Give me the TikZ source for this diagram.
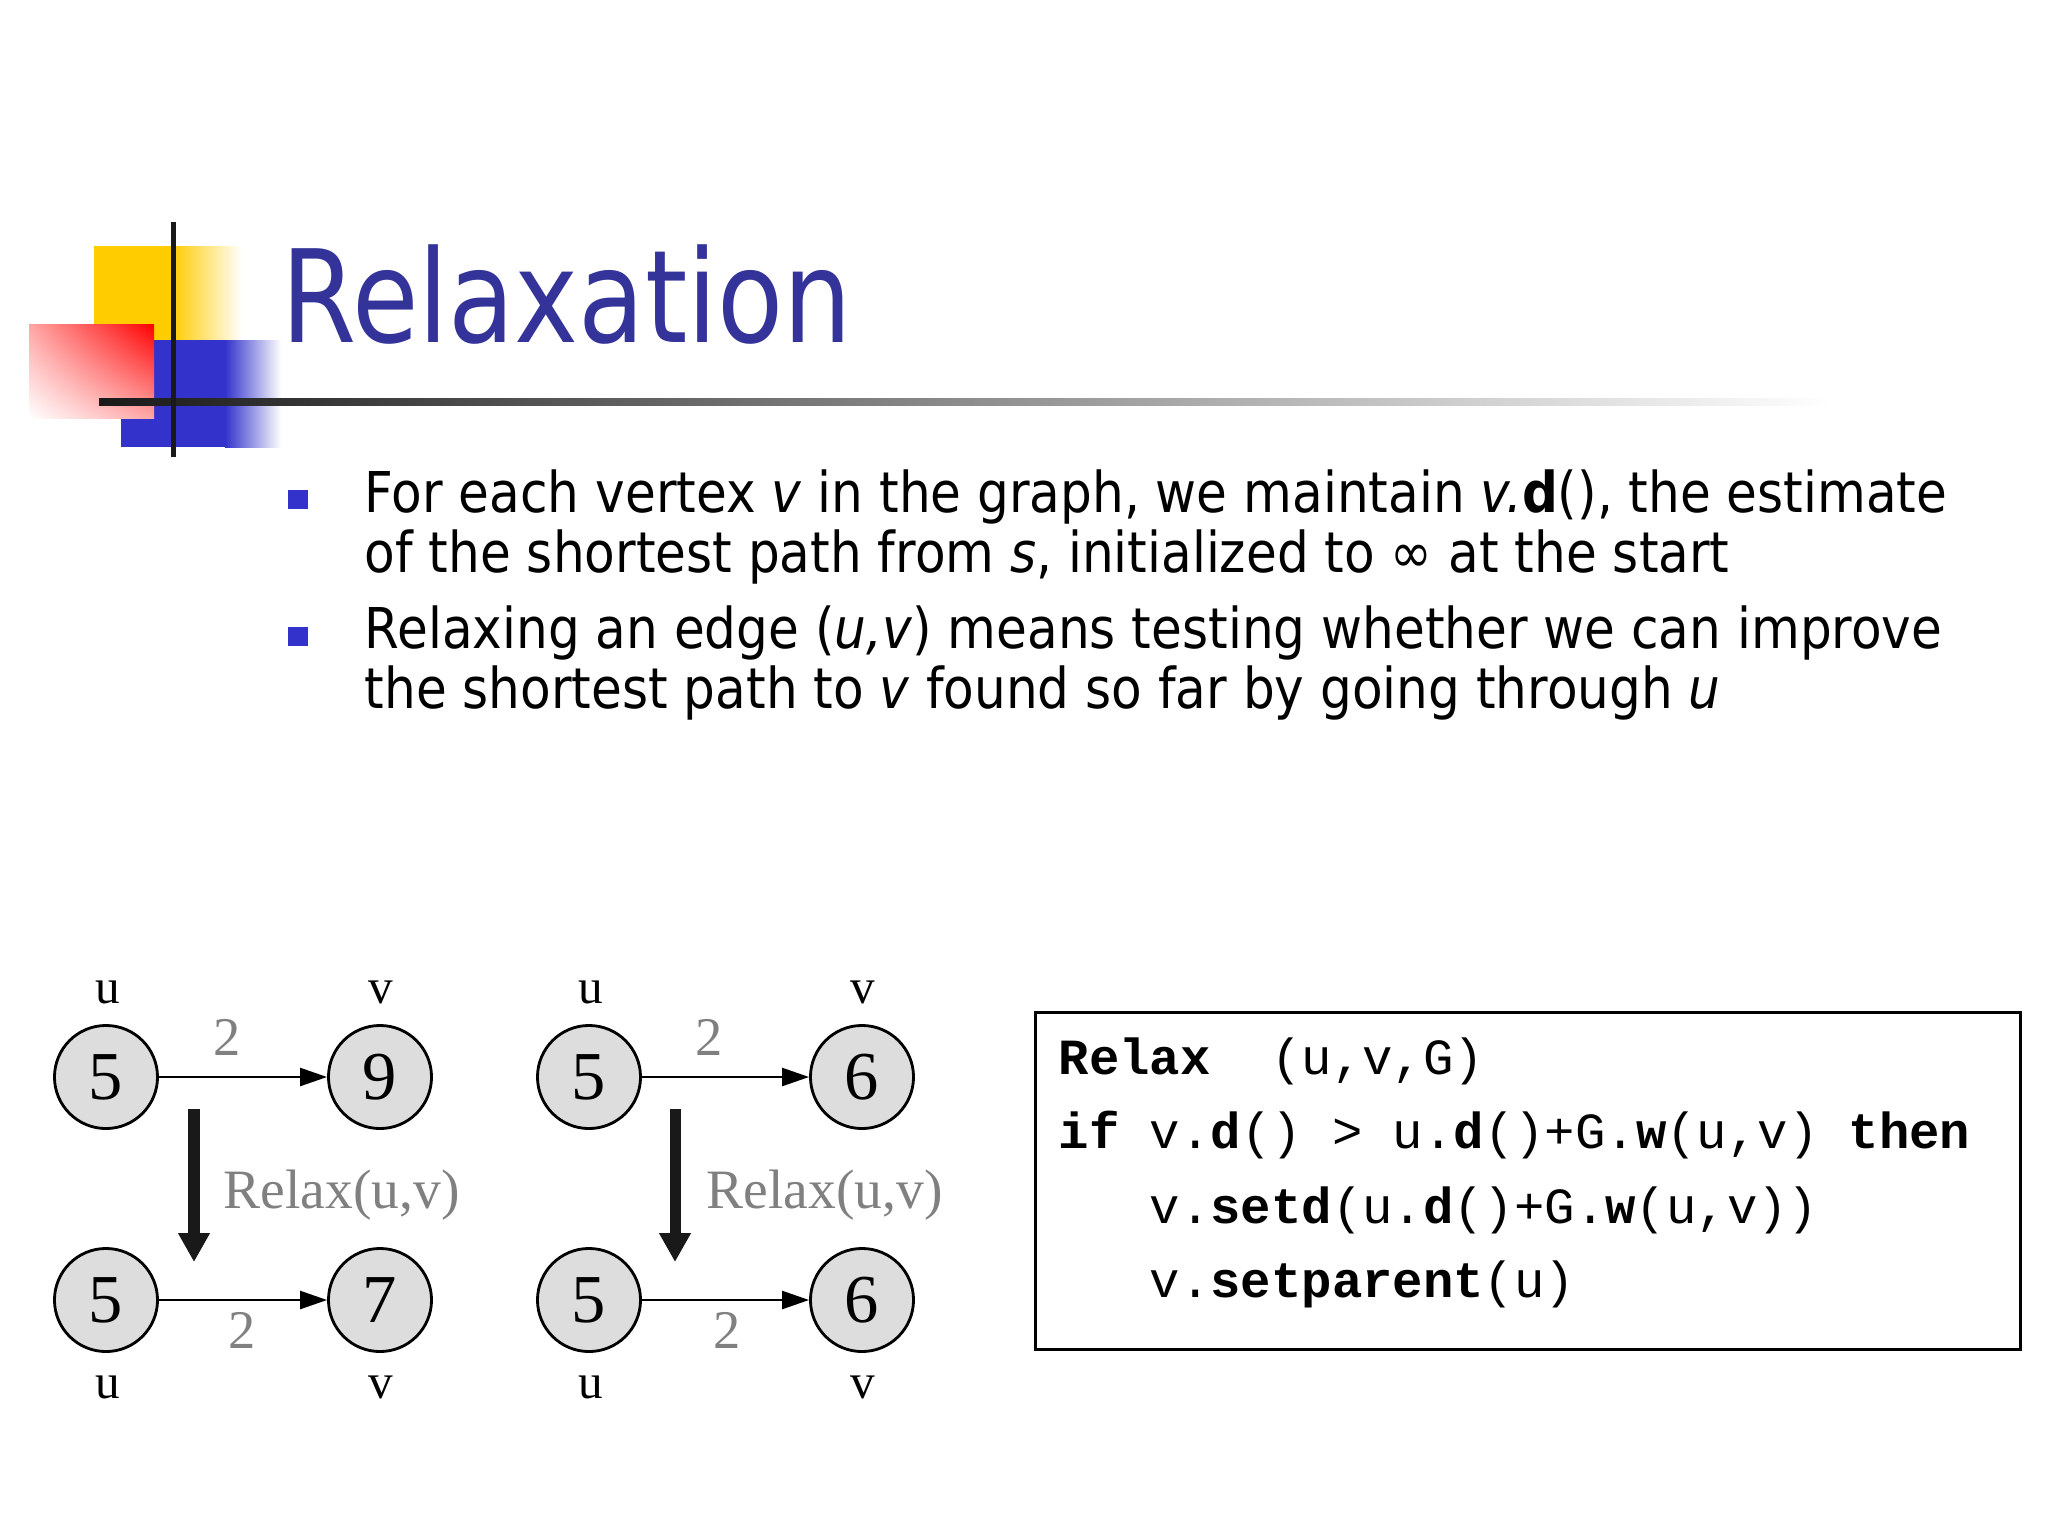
\documentclass[tikz,border=0pt]{standalone}
\usepackage{fontspec}
\usetikzlibrary{arrows.meta, positioning, shadings}
\setmainfont{Liberation Serif}
\newfontfamily\titlefont[FakeStretch=0.84]{DejaVu Sans}
\newfontfamily\slidefont[FakeStretch=0.89]{DejaVu Sans}
\newfontfamily\codefont{Liberation Mono}
\definecolor{titleblue}{RGB}{51,51,153}
\definecolor{bulletblue}{RGB}{51,51,204}
\definecolor{logoyellow}{RGB}{255,204,0}
\definecolor{logoblue}{RGB}{51,51,204}
\definecolor{nodegray}{RGB}{221,221,221}
\definecolor{labelgray}{RGB}{128,128,128}

\begin{document}
\begin{tikzpicture}[
    x=0.01cm, y=-0.01cm,
    vertex/.style={circle, draw=black, line width=0.8pt, fill=nodegray, minimum size=1.03cm, inner sep=0pt, font=\fontsize{19.5}{20}\selectfont},
    vlabel/.style={anchor=base, inner sep=0pt, font=\fontsize{14}{15}\selectfont},
    weight/.style={anchor=base, inner sep=0pt, text=labelgray, font=\fontsize{15.5}{16}\selectfont},
    relaxlabel/.style={anchor=base west, inner sep=0pt, text=labelgray, font=\fontsize{15.8}{16}\selectfont},
    edge/.style={-{Triangle[length=0.27cm, width=0.18cm]}, line width=0.7pt},
    relaxarrow/.style={-{Triangle[length=0.29cm, width=0.30cm]}, line width=0.11cm, draw=black!90},
    bodyline/.style={anchor=base west, inner sep=0pt, font=\slidefont\fontsize{16}{19}\selectfont},
    codeline/.style={anchor=base west, inner sep=0pt, font=\codefont\fontsize{14.4}{17}\selectfont},
    bulletbox/.style={rectangle, fill=bulletblue, minimum size=0.19cm, inner sep=0pt}
]
\useasboundingbox (0,0) rectangle (2048,1536);

% logo
\fill[logoyellow] (94,246) rectangle (172,340);
\shade[left color=logoyellow, right color=white] (172,246) rectangle (242,340);
\fill[logoblue] (121,340) rectangle (225,447);
\shade[left color=logoblue, right color=white] (225,340) rectangle (281,447);
\shade[upper right=red, upper left=red!35!white, lower right=red!35!white, lower left=white] (29,324) rectangle (154,418);
\shade[left color=black!90, right color=white] (99,398) rectangle (1830,405);
\fill[black!90] (171,222) rectangle (176,457);

\node[anchor=base west, inner sep=0pt, text=titleblue, font=\titlefont\fontsize{36.6}{40}\selectfont] (title) at (281,342) {Relaxation};

% bullets
\node[bulletbox] (b1) at (298,499) {};
\node[bulletbox] (b2) at (298,636) {};
\node[bodyline] (l1) at (364,512) {For each vertex \textit{v} in the graph, we maintain \textit{v.}\textbf{d}(), the estimate};
\node[bodyline] (l2) at (364,572) {of the shortest path from \textit{s}, initialized to ∞ at the start};
\node[bodyline] (l3) at (364,648) {Relaxing an edge (\textit{u,v}) means testing whether we can improve};
\node[bodyline] (l4) at (364,708) {the shortest path to \textit{v} found so far by going through \textit{u}};

% before / after graphs
\node[vertex] (u1) at (106,1077) {5};
\node[vertex] (v1) at (380,1077) {9};
\node[vertex] (u2) at (106,1300) {5};
\node[vertex] (v2) at (380,1300) {7};
\node[vertex] (u3) at (589,1077) {5};
\node[vertex] (v3) at (862,1077) {6};
\node[vertex] (u4) at (589,1300) {5};
\node[vertex] (v4) at (862,1300) {6};

\node[vlabel] (lu1) at (108,1003) {u};
\node[vlabel] (lv1) at (381,1003) {v};
\node[vlabel] (lu2) at (108,1398) {u};
\node[vlabel] (lv2) at (381,1398) {v};
\node[vlabel] (lu3) at (591,1003) {u};
\node[vlabel] (lv3) at (863,1003) {v};
\node[vlabel] (lu4) at (591,1398) {u};
\node[vlabel] (lv4) at (863,1398) {v};

\node[weight] (w1) at (227,1055) {2};
\node[weight] (w2) at (242,1348) {2};
\node[weight] (w3) at (709,1055) {2};
\node[weight] (w4) at (727,1348) {2};

\foreach \a/\b in {u1/v1, u2/v2, u3/v3, u4/v4}
    \draw[edge] (\a) -- (\b);

\coordinate (r1s) at (194,1109);
\coordinate (r1e) at (194,1262);
\coordinate (r2s) at (675,1109);
\coordinate (r2e) at (675,1262);
\draw[relaxarrow] (r1s) -- (r1e);
\draw[relaxarrow] (r2s) -- (r2e);
\node[relaxlabel] (rl1) at (223,1208) {Relax(u,v)};
\node[relaxlabel] (rl2) at (706,1208) {Relax(u,v)};

% pseudo code
\node[draw=black, line width=0.8pt, minimum width=9.84cm, minimum height=3.37cm, inner sep=0pt] (codebox) at (1528,1181) {};
\node[codeline] (c1) at (1058,1074) {\textbf{Relax}\ \ (u,v,G)};
\node[codeline] (c2) at (1058,1148) {\textbf{if} v.\textbf{d}() > u.\textbf{d}()+G.\textbf{w}(u,v) \textbf{then}};
\node[codeline] (c3) at (1149,1223) {v.\textbf{setd}(u.\textbf{d}()+G.\textbf{w}(u,v))};
\node[codeline] (c4) at (1149,1297) {v.\textbf{setparent}(u)};

\end{tikzpicture}
\end{document}
